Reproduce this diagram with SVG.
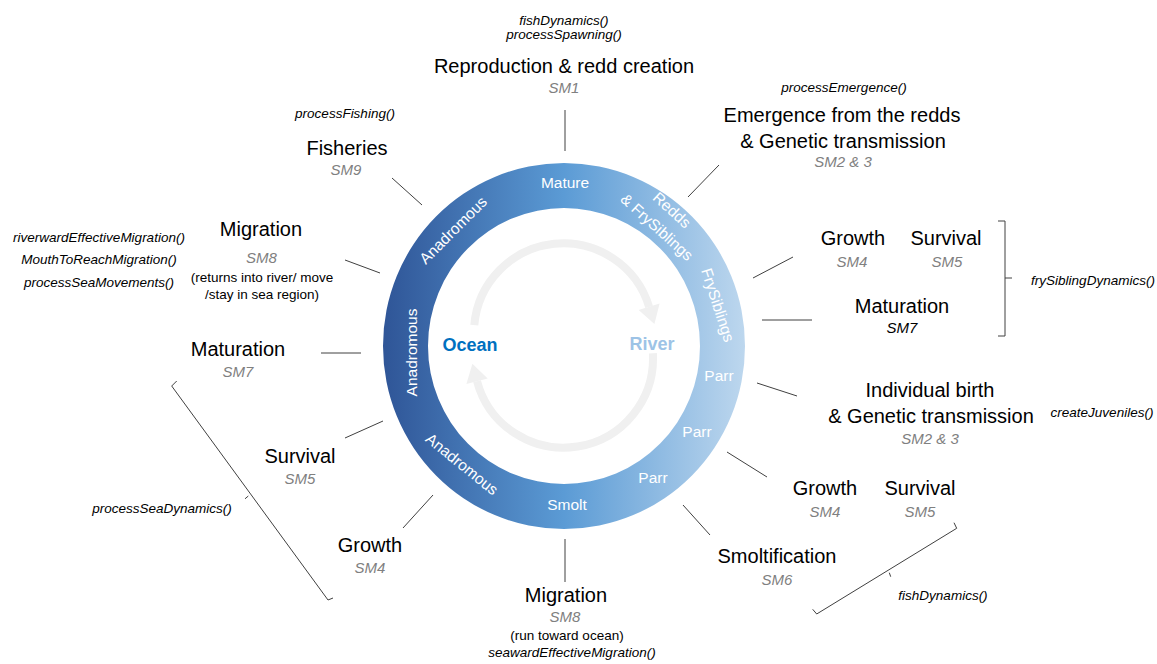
<svg xmlns="http://www.w3.org/2000/svg" width="1157" height="664" viewBox="0 0 1157 664">
<defs>
<linearGradient id="ringGrad" gradientUnits="userSpaceOnUse" x1="383" y1="0" x2="745" y2="0">
<stop offset="0" stop-color="#2f5597"/>
<stop offset="0.5" stop-color="#5b9bd5"/>
<stop offset="1" stop-color="#bdd7ee"/>
</linearGradient>
<style>
text{font-family:"Liberation Sans",Arial,sans-serif}
.h{font-size:20px;fill:#000;text-anchor:middle}
.sm{font-size:15px;fill:#808080;font-style:italic;text-anchor:middle}
.smk{font-size:15px;fill:#000;font-style:italic;text-anchor:middle}
.fn{font-size:13.5px;font-style:italic;fill:#000;text-anchor:middle}
.note{font-size:13.5px;fill:#000;text-anchor:middle}
.rl{font-size:15.5px;fill:#fff;text-anchor:middle}
.conn{stroke:#404040;stroke-width:1;fill:none}
.brk{stroke:#404040;stroke-width:1;fill:none;stroke-linejoin:miter}
.arr{stroke:#f0f0f0;stroke-width:8;fill:none}
.arrh{fill:#f0f0f0}
</style>
</defs>
<rect x="0" y="0" width="1157" height="664" fill="#fff"/>

<g id="cycle">
<path fill="url(#ringGrad)" fill-rule="evenodd" d="M383,346 a181,183 0 1,0 362,0 a181,183 0 1,0 -362,0 Z M428,346 a136,138 0 1,0 272,0 a136,138 0 1,0 -272,0 Z"/>
<path class="arr" d="M474.3,325.2 A89.5,89.5 0 0,1 649.1,306.8"/>
<polygon class="arrh" points="659.6,303.6 654.4,324 638.6,310"/>
<path class="arr" d="M652.9,353.3 A89.5,89.5 0 0,1 477.05,381.2"/>
<polygon class="arrh" points="487.7,378.4 472.4,363.8 466.4,384"/>
<text x="470" y="351" style="font-size:18px;font-weight:bold;fill:#0070c0;text-anchor:middle">Ocean</text>
<text x="652" y="349.5" style="font-size:18px;font-weight:bold;fill:#9dc3e6;text-anchor:middle">River</text>
<text class="rl" x="565" y="187.5">Mature</text>
<text class="rl" x="567" y="510">Smolt</text>
<text class="rl" x="719" y="381">Parr</text>
<text class="rl" x="697" y="436.5">Parr</text>
<text class="rl" x="653" y="482.5">Parr</text>
<text class="rl" transform="translate(718,305) rotate(72)" y="5.5">FrySiblings</text>
<text class="rl" transform="translate(672,210) rotate(42)" y="5.5">Redds</text>
<text class="rl" transform="translate(657,227) rotate(42)" y="5.5">&amp; FrySiblings</text>
<text class="rl" transform="translate(453,230) rotate(-45)" y="5.5">Anadromous</text>
<text class="rl" transform="translate(411,352.5) rotate(-90)" y="5.5">Anadromous</text>
<text class="rl" transform="translate(462,464) rotate(39)" y="5.5">Anadromous</text>
</g>

<g id="connectors">
<line class="conn" x1="565" y1="110" x2="565" y2="151"/>
<line class="conn" x1="688" y1="197" x2="719" y2="165"/>
<line class="conn" x1="392" y1="178" x2="422" y2="205"/>
<line class="conn" x1="345" y1="260" x2="380" y2="273"/>
<line class="conn" x1="321" y1="353" x2="361" y2="353"/>
<line class="conn" x1="345" y1="438" x2="383" y2="421"/>
<line class="conn" x1="403" y1="528" x2="433" y2="495"/>
<line class="conn" x1="565" y1="539" x2="565" y2="582"/>
<line class="conn" x1="683" y1="505" x2="710" y2="535"/>
<line class="conn" x1="727" y1="452" x2="767" y2="477"/>
<line class="conn" x1="757" y1="383" x2="797" y2="396"/>
<line class="conn" x1="762" y1="320" x2="812" y2="320"/>
<line class="conn" x1="753" y1="278" x2="793" y2="257"/>
</g>

<g id="node-reproduction">
<text class="fn" x="564" y="24.5">fishDynamics()</text>
<text class="fn" x="564" y="38.5">processSpawning()</text>
<text class="h" x="564" y="72.5">Reproduction &amp; redd creation</text>
<text class="sm" x="564" y="92.5">SM1</text>
</g>

<g id="node-emergence">
<text class="fn" x="844" y="91.5">processEmergence()</text>
<text class="h" x="842" y="121.5">Emergence from the redds</text>
<text class="h" x="843" y="148">&amp; Genetic transmission</text>
<text class="sm" x="843" y="167">SM2 &amp; 3</text>
</g>

<g id="node-fisheries">
<text class="fn" x="345" y="118">processFishing()</text>
<text class="h" x="347" y="155">Fisheries</text>
<text class="sm" x="346" y="175">SM9</text>
</g>

<g id="node-sea-migration">
<text class="fn" x="99" y="241.5">riverwardEffectiveMigration()</text>
<text class="fn" x="99" y="264">MouthToReachMigration()</text>
<text class="fn" x="99" y="287">processSeaMovements()</text>
<text class="h" x="261" y="236">Migration</text>
<text class="sm" x="261.5" y="262.5">SM8</text>
<text class="note" x="262" y="281.5">(returns into river/ move</text>
<text class="note" x="262" y="299">/stay in sea region)</text>
</g>

<g id="node-sea-maturation">
<text class="h" x="238" y="356">Maturation</text>
<text class="sm" x="238" y="376.5">SM7</text>
</g>

<g id="node-sea-survival">
<text class="h" x="300" y="462.5">Survival</text>
<text class="sm" x="300" y="484">SM5</text>
</g>

<g id="node-sea-growth">
<text class="h" x="370" y="551.5">Growth</text>
<text class="sm" x="370" y="572.5">SM4</text>
</g>

<g id="node-sea-dynamics">
<path class="brk" d="M176.7,381 L171.7,386 L328,600 L333,598"/>
<path class="brk" d="M248.3,496 L245,498.8"/>
<text class="fn" x="162" y="513">processSeaDynamics()</text>
</g>

<g id="node-river-migration">
<text class="h" x="566" y="601.5">Migration</text>
<text class="sm" x="565" y="621.5">SM8</text>
<text class="note" x="567" y="640">(run toward ocean)</text>
<text class="fn" x="572" y="657">seawardEffectiveMigration()</text>
</g>

<g id="node-fry">
<text class="h" x="853" y="245">Growth</text>
<text class="sm" x="852" y="266.5">SM4</text>
<text class="h" x="946" y="245">Survival</text>
<text class="sm" x="947" y="266.5">SM5</text>
<text class="h" x="902" y="312.5">Maturation</text>
<text class="smk" x="902" y="333">SM7</text>
<path class="brk" d="M998,221 L1005,221 L1005,336 L998,336"/>
<path class="brk" d="M1005,278 L1012,278"/>
<text class="fn" x="1093" y="285">frySiblingDynamics()</text>
</g>

<g id="node-birth">
<text class="h" x="930" y="396.5">Individual birth</text>
<text class="h" x="931" y="423">&amp; Genetic transmission</text>
<text class="sm" x="930" y="444">SM2 &amp; 3</text>
<text class="fn" x="1102" y="416.5">createJuveniles()</text>
</g>

<g id="node-juvenile">
<text class="h" x="825" y="495">Growth</text>
<text class="sm" x="825" y="516.5">SM4</text>
<text class="h" x="920" y="495">Survival</text>
<text class="sm" x="920" y="516.5">SM5</text>
<text class="h" x="777" y="563">Smoltification</text>
<text class="sm" x="777" y="585">SM6</text>
<path class="brk" d="M954,522.7 L956.7,528.3 L816.7,614 L812.7,609.3"/>
<path class="brk" d="M889.3,572.7 L890.7,576.7"/>
<text class="fn" x="943" y="600">fishDynamics()</text>
</g>
</svg>
